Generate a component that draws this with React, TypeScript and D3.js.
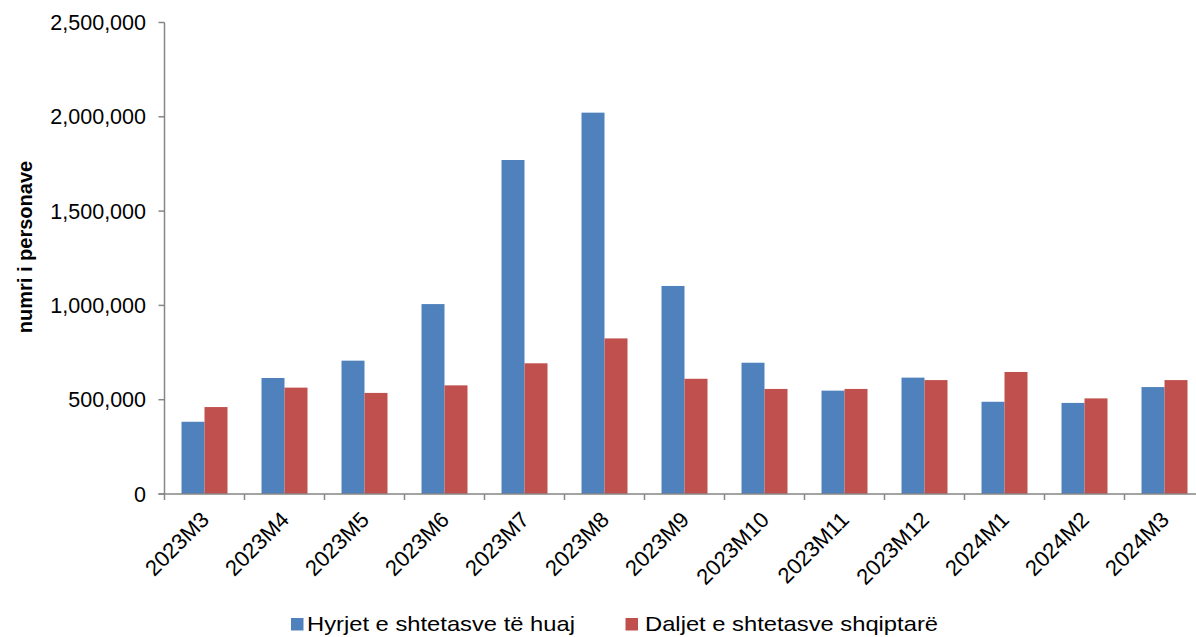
import { useRef, useEffect } from "react";
import * as d3 from "d3";

// categories (months)
const months = [
  "2023M3", "2023M4", "2023M5", "2023M6", "2023M7", "2023M8", "2023M9",
  "2023M10", "2023M11", "2023M12", "2024M1", "2024M2", "2024M3",
];

// Hyrjet e shtetasve të huaj
const foreignEntries = [
  383000, 615000, 707000, 1007000, 1771000, 2022000, 1103000,
  696000, 548000, 617000, 489000, 483000, 567000,
];

// Daljet e shtetasve shqiptarë
const albanianExits = [
  461000, 564000, 536000, 576000, 693000, 825000, 611000,
  557000, 557000, 604000, 647000, 507000, 604000,
];

const yTicks = [0, 500000, 1000000, 1500000, 2000000, 2500000];

const seriesNames = ["Hyrjet e shtetasve të huaj", "Daljet e shtetasve shqiptarë"];
const seriesColors = ["#4F81BD", "#C0504D"];

const FONT = "'Liberation Sans', Arial, sans-serif";

export default function App() {
  const ref = useRef<SVGSVGElement | null>(null);

  useEffect(() => {
    const svg = d3.select(ref.current);
    svg.selectAll("*").remove();

    const width = 1196;
    const left = 164.5;
    const bottom = 494;
    const top = 22.5;
    const step = 80;

    const x = d3
      .scaleBand<string>()
      .domain(months)
      .range([left, left + step * months.length])
      .paddingInner(0)
      .paddingOuter(0);
    const y = d3.scaleLinear().domain([0, 2500000]).range([bottom, top]);

    const barW = 23;
    const axisColor = "#868686";

    // bars
    const series = [foreignEntries, albanianExits];
    series.forEach((vals, si) => {
      svg
        .append("g")
        .selectAll("rect")
        .data(vals)
        .enter()
        .append("rect")
        .attr("x", (_d, i) => (x(months[i]) as number) + step / 2 - barW + si * barW)
        .attr("y", (d) => y(d))
        .attr("width", barW)
        .attr("height", (d) => bottom - y(d))
        .attr("fill", seriesColors[si]);
    });

    // y axis
    const yAxis = svg.append("g");
    yAxis
      .append("line")
      .attr("x1", left)
      .attr("x2", left)
      .attr("y1", top)
      .attr("y2", bottom)
      .attr("stroke", axisColor)
      .attr("stroke-width", 1.5);
    yAxis
      .selectAll("line.tick")
      .data(yTicks)
      .enter()
      .append("line")
      .attr("class", "tick")
      .attr("x1", left - 6)
      .attr("x2", left)
      .attr("y1", (d) => y(d))
      .attr("y2", (d) => y(d))
      .attr("stroke", axisColor)
      .attr("stroke-width", 1.5);
    yAxis
      .selectAll("text")
      .data(yTicks)
      .enter()
      .append("text")
      .attr("x", 146)
      .attr("y", (d) => y(d))
      .attr("dy", "0.35em")
      .attr("text-anchor", "end")
      .attr("font-family", FONT)
      .attr("font-size", 21.5)
      .attr("fill", "#000")
      .text((d) => d3.format(",")(d));

    // x axis
    const xAxis = svg.append("g");
    xAxis
      .append("line")
      .attr("x1", left - 6)
      .attr("x2", width)
      .attr("y1", bottom)
      .attr("y2", bottom)
      .attr("stroke", axisColor)
      .attr("stroke-width", 1.5);
    const bounds = months.map((m) => x(m) as number).concat([left + step * months.length]);
    xAxis
      .selectAll("line.tick")
      .data(bounds)
      .enter()
      .append("line")
      .attr("class", "tick")
      .attr("x1", (d) => d)
      .attr("x2", (d) => d)
      .attr("y1", bottom)
      .attr("y2", bottom + 6)
      .attr("stroke", axisColor)
      .attr("stroke-width", 1.5);
    xAxis
      .selectAll("text")
      .data(months)
      .enter()
      .append("text")
      .attr("transform", (d) => `translate(${(x(d) as number) + step / 2 + 6},${bottom + 27}) rotate(-45)`)
      .attr("text-anchor", "end")
      .attr("font-family", FONT)
      .attr("font-size", 22)
      .attr("fill", "#000")
      .text((d) => d);

    // y axis title
    svg
      .append("text")
      .attr("transform", `translate(32,247) rotate(-90)`)
      .attr("text-anchor", "middle")
      .attr("font-family", FONT)
      .attr("font-size", 20)
      .attr("font-weight", "bold")
      .attr("fill", "#000")
      .text("numri i personave");

    // legend
    const legend = [
      { sx: 291, tx: 307, len: 268 },
      { sx: 625.5, tx: 645, len: 293 },
    ];
    legend.forEach((l, i) => {
      svg
        .append("rect")
        .attr("x", l.sx)
        .attr("y", 618)
        .attr("width", 12.5)
        .attr("height", 12.5)
        .attr("fill", seriesColors[i]);
      svg
        .append("text")
        .attr("x", l.tx)
        .attr("y", 631)
        .attr("font-family", FONT)
        .attr("font-size", 21)
        .attr("textLength", l.len)
        .attr("lengthAdjust", "spacingAndGlyphs")
        .attr("fill", "#000")
        .text(seriesNames[i]);
    });
  }, []);

  return (
    <svg
      ref={ref}
      width={1196}
      height={637}
      style={{ position: "absolute", left: 0, top: 0, background: "#fff" }}
    />
  );
}
